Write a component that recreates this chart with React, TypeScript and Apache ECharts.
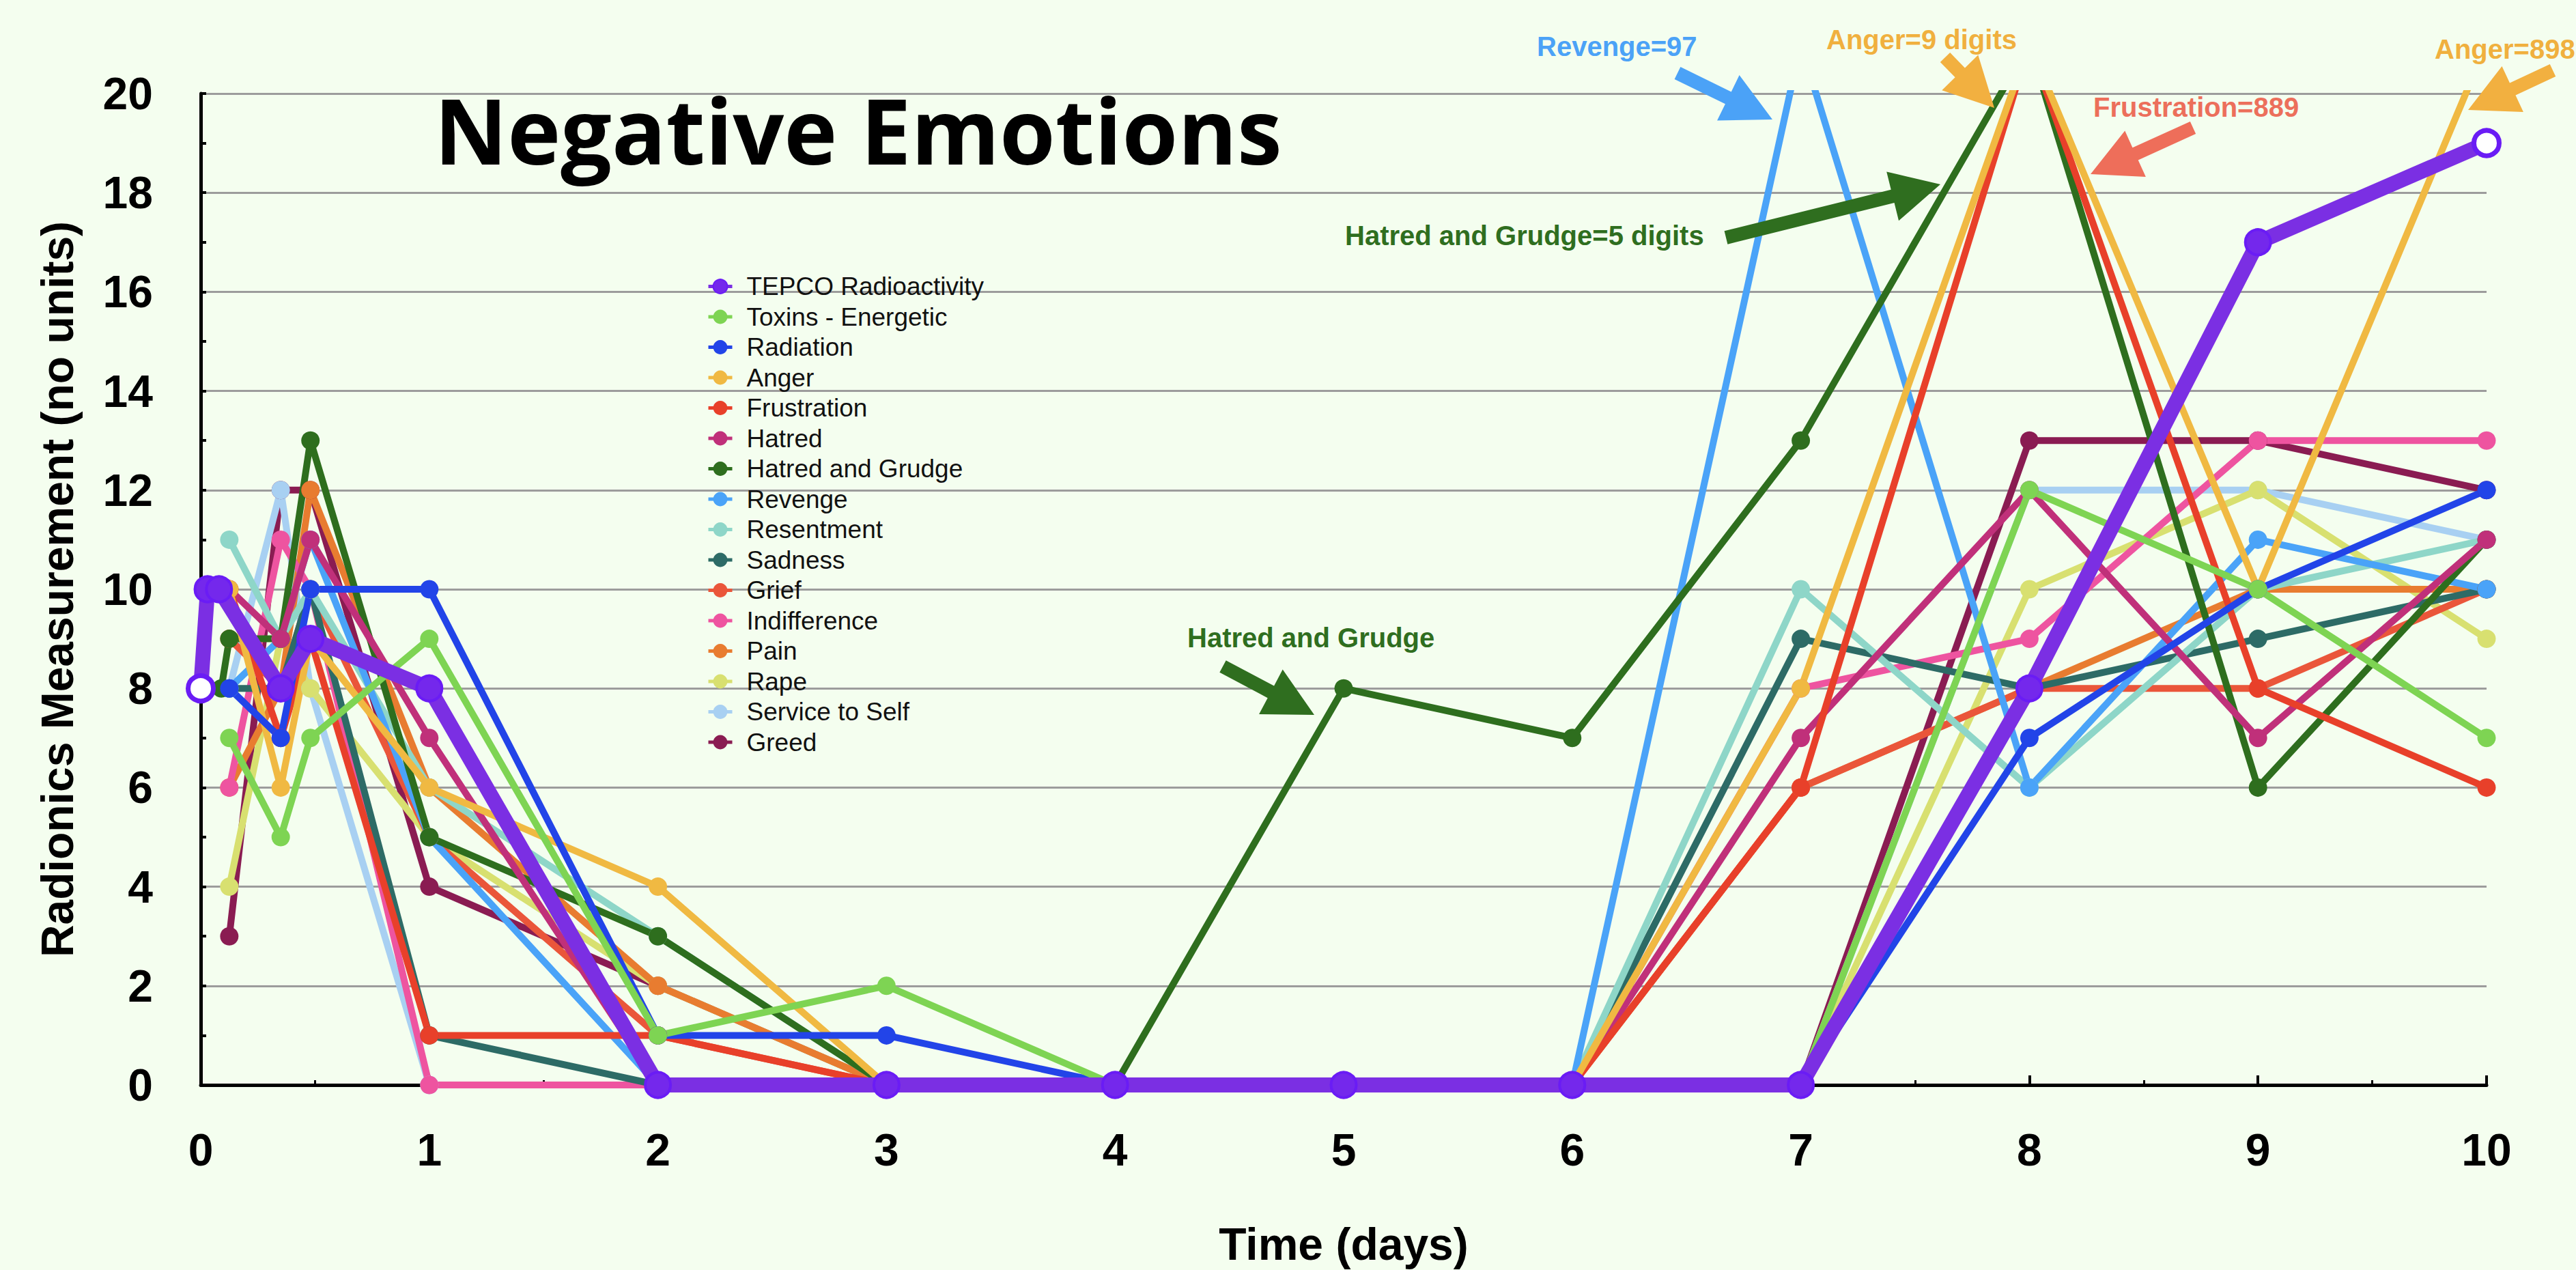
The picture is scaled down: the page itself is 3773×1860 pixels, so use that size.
import React, { useEffect, useRef } from "react";
import * as echarts from "echarts";

// ---- data (x = time in days, y = radionics measurement) ----
const names = [
  "TEPCO Radioactivity", "Toxins - Energetic", "Radiation", "Anger", "Frustration",
  "Hatred", "Hatred and Grudge", "Revenge", "Resentment", "Sadness", "Grief",
  "Indifference", "Pain", "Rape", "Service to Self", "Greed",
];
const colors = [
  "#7B2FE3", "#7ED453", "#2244E8", "#F0B942", "#E8402A",
  "#C0307A", "#2E6E1E", "#4AA3F8", "#8ED6C8", "#2D6B66", "#EA563A",
  "#EE54A0", "#E87C30", "#D8E070", "#A8D0F2", "#8A1C52",
];

const tepco = [[0, 8], [0.03, 10], [0.08, 10], [0.35, 8], [0.48, 9], [1, 8], [2, 0], [3, 0], [4, 0], [5, 0], [6, 0], [7, 0], [8, 8], [9, 17], [10, 19]];
const toxins = [[0.125, 7], [0.35, 5], [0.48, 7], [1, 9], [2, 1], [3, 2], [4, 0], [5, 0], [6, 0], [7, 0], [8, 12], [9, 10], [10, 7]];
const radiation = [[0.125, 8], [0.35, 7], [0.48, 10], [1, 10], [2, 1], [3, 1], [4, 0], [5, 0], [6, 0], [7, 0], [8, 7], [9, 10], [10, 12]];
const anger = [[0.125, 10], [0.35, 6], [0.48, 9], [1, 6], [2, 4], [3, 0], [4, 0], [5, 0], [6, 0], [7, 8], [8, 21], [9, 10], [10, 21]];
const frustration = [[0.125, 10], [0.35, 7], [0.48, 9], [1, 1], [2, 1], [3, 0], [4, 0], [5, 0], [6, 0], [7, 6], [8, 21], [9, 8], [10, 6]];
const hatred = [[0.125, 10], [0.35, 9], [0.48, 11], [1, 7], [2, 0], [3, 0], [4, 0], [5, 0], [6, 0], [7, 7], [8, 12], [9, 7], [10, 11]];
const hatredGrudge = [[0.09, 8], [0.125, 9], [0.35, 9], [0.48, 13], [1, 5], [2, 3], [3, 0], [4, 0], [5, 8], [6, 7], [7, 13], [8, 21], [9, 6], [10, 11]];
const revenge = [[0.125, 8], [0.35, 9], [0.48, 11], [1, 5], [2, 0], [3, 0], [4, 0], [5, 0], [6, 0], [7, 21], [8, 6], [9, 11], [10, 10]];
const resentment = [[0.125, 11], [0.35, 9], [0.48, 10], [1, 6], [2, 3], [3, 0], [4, 0], [5, 0], [6, 0], [7, 10], [8, 6], [9, 10], [10, 11]];
const sadness = [[0.125, 8], [0.35, 8], [0.48, 10], [1, 1], [2, 0], [3, 0], [4, 0], [5, 0], [6, 0], [7, 9], [8, 8], [9, 9], [10, 10]];
const grief = [[0.125, 9], [0.35, 8], [0.48, 10], [1, 5], [2, 1], [3, 0], [4, 0], [5, 0], [6, 0], [7, 6], [8, 8], [9, 8], [10, 10]];
const indifference = [[0.125, 6], [0.35, 11], [0.48, 10], [1, 0], [2, 0], [3, 0], [4, 0], [5, 0], [6, 0], [7, 8], [8, 9], [9, 13], [10, 13]];
const pain = [[0.125, 6], [0.35, 8], [0.48, 12], [1, 6], [2, 2], [3, 0], [4, 0], [5, 0], [6, 0], [7, 6], [8, 8], [9, 10], [10, 10]];
const rape = [[0.125, 4], [0.35, 9], [0.48, 8], [1, 5], [2, 2], [3, 0], [4, 0], [5, 0], [6, 0], [7, 0], [8, 10], [9, 12], [10, 9]];
const serviceToSelf = [[0.125, 8], [0.35, 12], [0.48, 8], [1, 0], [2, 0], [3, 0], [4, 0], [5, 0], [6, 0], [7, 0], [8, 12], [9, 12], [10, 11]];
const greed = [[0.125, 3], [0.35, 12], [0.48, 12], [1, 4], [2, 2], [3, 0], [4, 0], [5, 0], [6, 0], [7, 0], [8, 13], [9, 13], [10, 12]];

const allData = [tepco, toxins, radiation, anger, frustration, hatred, hatredGrudge, revenge, resentment, sadness, grief, indifference, pain, rape, serviceToSelf, greed];

const xTicks = [0, 1, 2, 3, 4, 5, 6, 7, 8, 9, 10];
const yTicks = [0, 2, 4, 6, 8, 10, 12, 14, 16, 18, 20];

const annotations = [
  { text: "Revenge=97", color: "#4BA2F7" },
  { text: "Anger=9 digits", color: "#F0B03E" },
  { text: "Frustration=889", color: "#EC6F5B" },
  { text: "Anger=898", color: "#F0B03E" },
  { text: "Hatred and Grudge=5 digits", color: "#2F6E1F" },
  { text: "Hatred and Grudge", color: "#2F6E1F" },
];

// layout of annotation texts and arrows (pixels)
const annPos = [
  { x: 2251, y: 68 }, { x: 2675, y: 58 }, { x: 3066, y: 157 },
  { x: 3566, y: 72 }, { x: 1970, y: 345 }, { x: 1739, y: 934 },
];
const arrowPos = [
  { tail: [2457, 107], tip: [2596, 175], color: "#4BA2F7" },
  { tail: [2849, 84], tip: [2921, 158], color: "#F2B040" },
  { tail: [3212, 187], tip: [3062, 255], color: "#EE6E5A" },
  { tail: [3739, 103], tip: [3615, 161], color: "#F2B040" },
  { tail: [2528, 348], tip: [2842, 270], color: "#2F6E1F" },
  { tail: [1791, 976], tip: [1925, 1047], color: "#2F6E1F" },
];

function arrowPoints(tail: number[], tip: number[], shaft: number, headLen: number, headW: number) {
  const dx = tip[0] - tail[0];
  const dy = tip[1] - tail[1];
  const len = Math.hypot(dx, dy);
  const ux = dx / len, uy = dy / len;
  const nx = -uy, ny = ux;
  const bx = tip[0] - ux * headLen, by = tip[1] - uy * headLen;
  const s = shaft / 2, h = headW / 2;
  return [
    [tail[0] + nx * s, tail[1] + ny * s],
    [bx + nx * s, by + ny * s],
    [bx + nx * h, by + ny * h],
    [tip[0], tip[1]],
    [bx - nx * h, by - ny * h],
    [bx - nx * s, by - ny * s],
    [tail[0] - nx * s, tail[1] - ny * s],
  ];
}

export default function App() {
  const ref = useRef<HTMLDivElement>(null);
  useEffect(() => {
    if (!ref.current) return;
    const chart = echarts.init(ref.current, undefined, { renderer: "svg" });
    const font = "'Liberation Sans', Arial, Helvetica, sans-serif";

    const built = allData.map((d, i) => {
      const isT = i === 0;
      const data = d.map((p, j) => {
        if (isT && (j === 0 || j === d.length - 1)) {
          return { value: p, itemStyle: { color: "#ffffff", borderColor: "#6A1CF5", borderWidth: 7 } };
        }
        return { value: p };
      });
      return {
        type: "line",
        name: names[i],
        data,
        color: colors[i],
        symbol: "circle",
        symbolSize: isT ? 37 : 27,
        showAllSymbol: true,
        lineStyle: { width: isT ? 22 : 10, color: colors[i] },
        itemStyle: isT ? { color: "#7428EC", borderColor: "#6A1CF5", borderWidth: 4 } : { color: colors[i] },
        z: isT ? 4 : 2,
        clip: true,
        emphasis: { disabled: true },
        silent: true,
      };
    });
    // earlier legend entries are drawn on top
    const series = built.slice().reverse();

    const graphic: any[] = [
      {
        type: "text", x: 636, y: 190, z: 10,
        style: { text: "Negative Emotions", fill: "#000", fontSize: 132, fontWeight: "bold", fontFamily: "'Open Sans', sans-serif", textVerticalAlign: "middle", textAlign: "left" },
      },
    ];
    annotations.forEach((a, i) => {
      graphic.push({
        type: "text", x: annPos[i].x, y: annPos[i].y, z: 10,
        style: { text: a.text, fill: a.color, fontSize: 40, fontWeight: "bold", fontFamily: font, textVerticalAlign: "middle", textAlign: "left" },
      });
    });
    arrowPos.forEach((a) => {
      graphic.push({
        type: "polygon", z: 10,
        shape: { points: arrowPoints(a.tail, a.tip, 20, 72, 74) },
        style: { fill: a.color },
      });
    });

    chart.setOption({
      animation: false,
      backgroundColor: "#F4FEEF",
      grid: { left: 294, right: 131, top: 137, bottom: 248, containLabel: false },
      legend: {
        orient: "vertical",
        left: 1030,
        top: 396,
        itemWidth: 35,
        itemHeight: 26,
        itemGap: 7.5,
        selectedMode: false,
        data: names,
        lineStyle: { width: 5 },
        textStyle: { fontSize: 37, lineHeight: 36, color: "#111", fontFamily: font, padding: [0, 0, 0, 16] },
      },
      xAxis: {
        type: "value",
        min: xTicks[0],
        max: xTicks[xTicks.length - 1],
        interval: 1,
        name: "Time (days)",
        nameLocation: "middle",
        nameGap: 200,
        nameTextStyle: { fontSize: 66, fontWeight: "bold", color: "#000", fontFamily: font },
        axisLine: { show: true, lineStyle: { color: "#000", width: 5 } },
        axisTick: { show: true, inside: true, length: 14, lineStyle: { color: "#000", width: 4 } },
        minorTick: { show: true, splitNumber: 2, length: 7, lineStyle: { color: "#000", width: 3 } },
        axisLabel: { fontSize: 66, fontWeight: "bold", color: "#000", fontFamily: font, margin: 62 },
        splitLine: { show: false },
      },
      yAxis: {
        type: "value",
        min: yTicks[0],
        max: yTicks[yTicks.length - 1],
        interval: 2,
        name: "Radionics Measurement (no units)",
        nameLocation: "middle",
        nameGap: 177,
        nameTextStyle: { fontSize: 66, fontWeight: "bold", color: "#000", fontFamily: font },
        axisLine: { show: true, lineStyle: { color: "#000", width: 5 } },
        axisTick: { show: true, inside: true, length: 8, lineStyle: { color: "#000", width: 4 } },
        minorTick: { show: true, splitNumber: 2, length: 8, lineStyle: { color: "#000", width: 4 } },
        axisLabel: { fontSize: 66, fontWeight: "bold", color: "#000", fontFamily: font, margin: 70 },
        splitLine: { show: true, lineStyle: { color: "#9C9C9C", width: 3 } },
      },
      series,
      graphic,
    });
    return () => chart.dispose();
  }, []);
  return <div ref={ref} style={{ position: "fixed", left: 0, top: 0, width: 3773, height: 1860 }} />;
}
